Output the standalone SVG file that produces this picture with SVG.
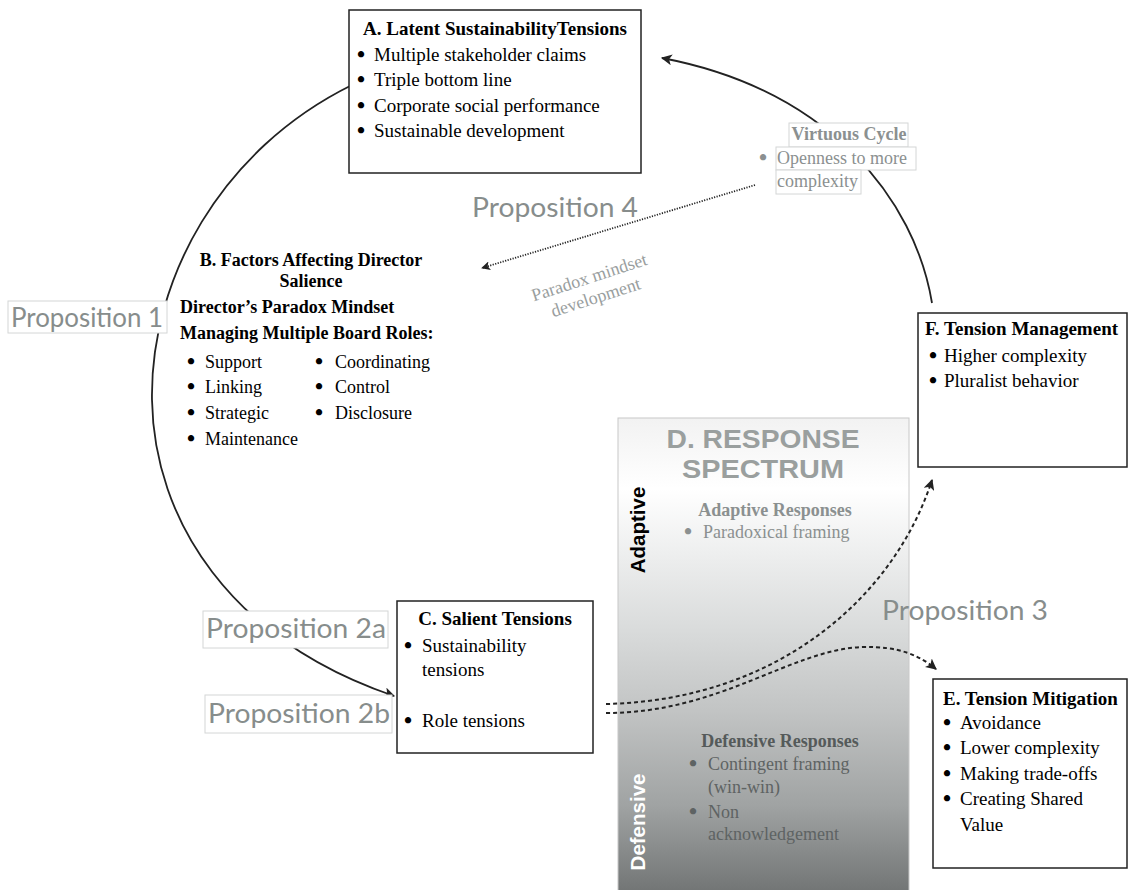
<svg xmlns="http://www.w3.org/2000/svg" width="1129" height="890" viewBox="0 0 1129 890">
  <style>
    .serif { font-family: "Liberation Serif", "Times New Roman", serif; font-size: 19px; fill: #000; }
    .s18 { font-size: 18px; }
    .b { font-weight: bold; }
    .mid { text-anchor: middle; }
    .bul { font-size: 23px; font-weight: bold; }
    .box { fill: #fff; stroke: #222; stroke-width: 1.5; }
    .prop { font-family: Lato, "Noto Sans", sans-serif; font-size: 27px; fill: #878d8c; }
    .tag { fill: #fff; stroke: #d4d6d6; stroke-width: 1; }
    .grey { fill: #8b9090; }
    .pale { fill: #999e9e; }
    .dark { fill: #555a5a; }
    .mute { fill: #5e6363; }
    .head { font-family: "Liberation Sans", Arial, sans-serif; font-weight: bold; font-size: 26px; fill: #9a9f9e; text-anchor: middle; }
    .side { font-family: "Liberation Sans", Arial, sans-serif; font-weight: bold; font-size: 20.5px; text-anchor: middle; }
    .arc { fill: none; stroke: #222; stroke-width: 1.8; }
    .dash { fill: none; stroke: #222; stroke-width: 2; stroke-dasharray: 4 3; }
    .dot { fill: none; stroke: #222; stroke-width: 1.8; stroke-dasharray: 1.2 1.4; }
  </style>
  <defs>
    <linearGradient id="spectrum" gradientUnits="userSpaceOnUse" x1="0" y1="418" x2="0" y2="890">
      <stop offset="0" stop-color="#f2f2f2"/>
      <stop offset="0.15" stop-color="#ffffff"/>
      <stop offset="0.45" stop-color="#d9dbdb"/>
      <stop offset="0.62" stop-color="#c2c4c4"/>
      <stop offset="0.82" stop-color="#a0a3a3"/>
      <stop offset="1" stop-color="#737676"/>
    </linearGradient>
    <marker id="head" viewBox="0 0 10 10" refX="9" refY="5" markerWidth="11" markerHeight="11" orient="auto" markerUnits="userSpaceOnUse">
      <path d="M0,0 L10,5 L0,10 L2.5,5 z" fill="#222"/>
    </marker>
    <marker id="headSmall" viewBox="0 0 10 10" refX="9" refY="5" markerWidth="9" markerHeight="9" orient="auto" markerUnits="userSpaceOnUse">
      <path d="M0,0 L10,5 L0,10 L2.5,5 z" fill="#222"/>
    </marker>
  </defs>

  <!-- D: response spectrum panel (drawn under the connectors) -->
  <g id="nodeD">
    <rect x="618" y="418" width="291" height="475" fill="url(#spectrum)" stroke="#c8c8c8" stroke-width="1"/>
    <text class="head" x="763" y="448" textLength="193" lengthAdjust="spacingAndGlyphs">D. RESPONSE</text>
    <text class="head" x="763" y="478" textLength="162" lengthAdjust="spacingAndGlyphs">SPECTRUM</text>
    <text class="side" transform="translate(645,530) rotate(-90)" fill="#000">Adaptive</text>
    <text class="side" transform="translate(645,822) rotate(-90)" style="fill:#fff">Defensive</text>
    <text class="serif s18 b mid grey" x="775" y="516">Adaptive Responses</text>
    <text class="serif s18 grey" y="538"><tspan class="bul" x="684" dy="1">•</tspan><tspan x="703" dy="-1">Paradoxical framing</tspan></text>
    <text class="serif s18 b mid dark" x="780" y="747">Defensive Responses</text>
    <text class="serif s18 mute" y="770"><tspan class="bul" x="689" dy="1">•</tspan><tspan x="708" dy="-1">Contingent framing</tspan></text>
    <text class="serif s18 mute" x="708" y="793">(win-win)</text>
    <text class="serif s18 mute" y="818"><tspan class="bul" x="689" dy="1">•</tspan><tspan x="708" dy="-1">Non</tspan></text>
    <text class="serif s18 mute" x="708" y="840">acknowledgement</text>
  </g>

  <!-- connectors -->
  <g id="connectors">
    <path class="arc" d="M352,85 C220,150 150,280 152,400 C154,520 230,640 394,696" marker-end="url(#head)"/>
    <path class="arc" d="M932,303 C915,200 830,90 662,58" marker-end="url(#head)"/>
    <path class="dot" d="M755,185 L482,268" marker-end="url(#headSmall)"/>
    <path class="dash" d="M606,704 C780,700 895,595 932,480" marker-end="url(#head)"/>
    <path class="dash" d="M606,713 C720,713 790,650 862,647 C900,646 920,656 936,669" marker-end="url(#head)"/>
  </g>

  <!-- A: latent tensions -->
  <g id="nodeA">
    <rect class="box" x="349" y="10" width="292" height="163" stroke="#444"/>
    <text class="serif b mid" x="495" y="35">A. Latent SustainabilityTensions</text>
    <text class="serif" y="61"><tspan class="bul" x="357" dy="1">•</tspan><tspan x="374" dy="-1">Multiple stakeholder claims</tspan></text>
    <text class="serif" y="86"><tspan class="bul" x="357" dy="1">•</tspan><tspan x="374" dy="-1">Triple bottom line</tspan></text>
    <text class="serif" y="112"><tspan class="bul" x="357" dy="1">•</tspan><tspan x="374" dy="-1">Corporate social performance</tspan></text>
    <text class="serif" y="137"><tspan class="bul" x="357" dy="1">•</tspan><tspan x="374" dy="-1">Sustainable development</tspan></text>
  </g>

  <!-- virtuous cycle label on the return arc -->
  <g id="virtuousCycle">
    <rect class="tag" x="789" y="123" width="119" height="24"/>
    <rect class="tag" x="776" y="147" width="140" height="23"/>
    <rect class="tag" x="776" y="170" width="85" height="24"/>
    <text class="serif s18 b mid grey" x="849" y="140">Virtuous Cycle</text>
    <text class="serif s18 grey" y="164"><tspan class="bul" x="759" dy="1">•</tspan><tspan x="777" dy="-1">Openness to more</tspan></text>
    <text class="serif s18 grey" x="777" y="187">complexity</text>
  </g>

  <!-- B: factors affecting director salience -->
  <g id="nodeB">
    <text class="serif s18 b mid" x="311" y="266">B. Factors Affecting Director</text>
    <text class="serif s18 b mid" x="311" y="287">Salience</text>
    <text class="serif s18 b" x="180" y="313">Director’s Paradox Mindset</text>
    <text class="serif s18 b" x="180" y="339">Managing Multiple Board Roles:</text>
    <text class="serif s18" y="368"><tspan class="bul" x="187" dy="1">•</tspan><tspan x="205" dy="-1">Support</tspan><tspan class="bul" x="315" dy="1">•</tspan><tspan x="335" dy="-1">Coordinating</tspan></text>
    <text class="serif s18" y="393"><tspan class="bul" x="187" dy="1">•</tspan><tspan x="205" dy="-1">Linking</tspan><tspan class="bul" x="315" dy="1">•</tspan><tspan x="335" dy="-1">Control</tspan></text>
    <text class="serif s18" y="419"><tspan class="bul" x="187" dy="1">•</tspan><tspan x="205" dy="-1">Strategic</tspan><tspan class="bul" x="315" dy="1">•</tspan><tspan x="335" dy="-1">Disclosure</tspan></text>
    <text class="serif s18" y="445"><tspan class="bul" x="187" dy="1">•</tspan><tspan x="205" dy="-1">Maintenance</tspan></text>
  </g>

  <!-- proposition labels -->
  <g id="prop1">
    <rect class="tag" x="8" y="301" width="159" height="32"/>
    <text class="prop" x="11" y="327" textLength="152" lengthAdjust="spacingAndGlyphs">Proposition 1</text>
  </g>
  <g id="prop2a">
    <rect class="tag" x="203" y="611" width="185" height="37"/>
    <text class="prop" x="206" y="638" textLength="180" lengthAdjust="spacingAndGlyphs">Proposition 2a</text>
  </g>
  <g id="prop2b">
    <rect class="tag" x="205" y="695" width="187" height="38"/>
    <text class="prop" x="208" y="723" textLength="182" lengthAdjust="spacingAndGlyphs">Proposition 2b</text>
  </g>
  <g id="prop3">
    <text class="prop" x="882" y="620" textLength="166" lengthAdjust="spacingAndGlyphs">Proposition 3</text>
  </g>
  <g id="prop4">
    <text class="prop" x="472" y="217" textLength="166" lengthAdjust="spacingAndGlyphs">Proposition 4</text>
  </g>
  <g id="paradoxDevelopment" transform="translate(591,283) rotate(-18)">
    <text class="serif s18 mid pale" x="0" y="0">Paradox mindset</text>
    <text class="serif s18 mid pale" x="0" y="21">development</text>
  </g>

  <!-- C: salient tensions -->
  <g id="nodeC">
    <rect class="box" x="397" y="601" width="196" height="152" stroke="#111"/>
    <text class="serif b mid" x="495" y="625">C. Salient Tensions</text>
    <text class="serif" y="652"><tspan class="bul" x="404" dy="1">•</tspan><tspan x="422" dy="-1">Sustainability</tspan></text>
    <text class="serif" x="422" y="676">tensions</text>
    <text class="serif" y="727"><tspan class="bul" x="404" dy="1">•</tspan><tspan x="422" dy="-1">Role tensions</tspan></text>
  </g>

  <!-- F: tension management -->
  <g id="nodeF">
    <rect class="box" x="918" y="313" width="209" height="154" stroke="#333"/>
    <text class="serif b" x="925" y="335">F. Tension Management</text>
    <text class="serif" y="362"><tspan class="bul" x="929" dy="1">•</tspan><tspan x="944" dy="-1">Higher complexity</tspan></text>
    <text class="serif" y="387"><tspan class="bul" x="929" dy="1">•</tspan><tspan x="944" dy="-1">Pluralist behavior</tspan></text>
  </g>

  <!-- E: tension mitigation -->
  <g id="nodeE">
    <rect class="box" x="933" y="679" width="194" height="189" stroke="#111"/>
    <text class="serif b" x="943" y="705">E. Tension Mitigation</text>
    <text class="serif" y="729"><tspan class="bul" x="943" dy="1">•</tspan><tspan x="960" dy="-1">Avoidance</tspan></text>
    <text class="serif" y="754"><tspan class="bul" x="943" dy="1">•</tspan><tspan x="960" dy="-1">Lower complexity</tspan></text>
    <text class="serif" y="780"><tspan class="bul" x="943" dy="1">•</tspan><tspan x="960" dy="-1">Making trade-offs</tspan></text>
    <text class="serif" y="805"><tspan class="bul" x="943" dy="1">•</tspan><tspan x="960" dy="-1">Creating Shared</tspan></text>
    <text class="serif" x="960" y="831">Value</text>
  </g>
</svg>
